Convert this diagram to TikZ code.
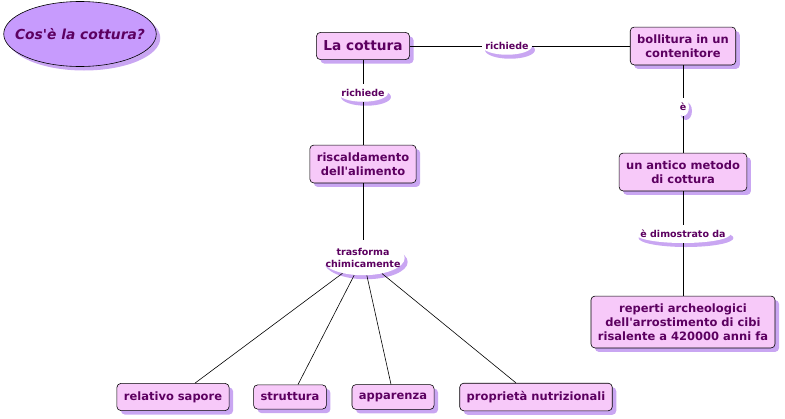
\documentclass[tikz,border=0pt]{standalone}
\usepackage{fontspec}
\setmainfont{DejaVu Sans}
\usepackage{tikz}
\usetikzlibrary{shapes.geometric, shadows}
\definecolor{ink}{HTML}{5C0060}
\definecolor{boxfill}{HTML}{F7C9F9}
\definecolor{shade}{HTML}{C9A6F2}
\definecolor{ovalfill}{HTML}{C79BFD}
\newcommand{\apo}{\textquotesingle}
\tikzstyle{concept} = [draw, rounded corners=4pt, fill=boxfill, text=ink, align=center, inner xsep=7pt, inner ysep=8pt, font=\bfseries\fontsize{11.5}{14}\selectfont, drop shadow={shadow xshift=4pt, shadow yshift=-4pt, fill=shade, opacity=1}]
\tikzstyle{link} = [ellipse, fill=white, text=ink, align=center, inner xsep=-4pt, inner ysep=2.5pt, font=\bfseries\fontsize{9.5}{12}\selectfont, drop shadow={shadow xshift=3pt, shadow yshift=-4pt, fill=shade, opacity=1}]
\tikzstyle{question} = [ellipse, draw, fill=ovalfill, text=ink, inner xsep=-11pt, minimum height=65pt, font=\bfseries\itshape\fontsize{13.8}{16}\selectfont, drop shadow={shadow xshift=4pt, shadow yshift=-4pt, fill=shade, opacity=1}]

\begin{document}
\begin{tikzpicture}[x=1pt, y=-1pt, line width=.6pt]
    \useasboundingbox (0,0) rectangle (785,418);
    \node[question] (domanda) at (80,34) {Cos\apo è la cottura?};

    % concepts
    \node[concept, inner ysep=8.5pt, font=\bfseries\fontsize{13.7}{16}\selectfont] (cottura) at (363,46) {La cottura};
    \node[concept, inner ysep=7.5pt] (bollitura) at (683,46) {bollitura in un\\contenitore};
    \node[concept, inner ysep=7.5pt] (metodo) at (683,172) {un antico metodo\\di cottura};
    \node[concept, inner ysep=7.5pt] (reperti) at (683,322) {reperti archeologici\\dell\apo arrostimento di cibi\\risalente a 420000 anni fa};
    \node[concept, inner ysep=7.5pt] (riscaldamento) at (363,164) {riscaldamento\\dell\apo alimento};
    \foreach \n/\x/\t in {sapore/173/relativo sapore, struttura/290/struttura, apparenza/393/apparenza, nutrizione/536/proprietà nutrizionali}
    \node[concept] (\n) at (\x,397) {\t};

    % linking phrases
    \node[link] (richiede1) at (507,46) {richiede};
    \node[link] (richiede2) at (363,93) {richiede};
    \node[link, inner xsep=1pt] (e) at (683,107) {è};
    \node[link, inner xsep=-9pt] (dimostrato) at (683,234) {è dimostrato da};
    \node[link, inner xsep=-8pt] (trasforma) at (363,258) {trasforma\\chimicamente};

    \foreach \f/\t in {cottura/richiede1, richiede1/bollitura, bollitura/e, e/metodo, metodo/dimostrato, dimostrato/reperti, cottura/richiede2, richiede2/riscaldamento, riscaldamento/trasforma}
    \draw (\f) -- (\t);
    \foreach \t/\s in {sapore/22, struttura/8, apparenza/-2, nutrizione/-20}
    \draw (trasforma) -- ([xshift=\s pt]\t.north);
\end{tikzpicture}
\end{document}
